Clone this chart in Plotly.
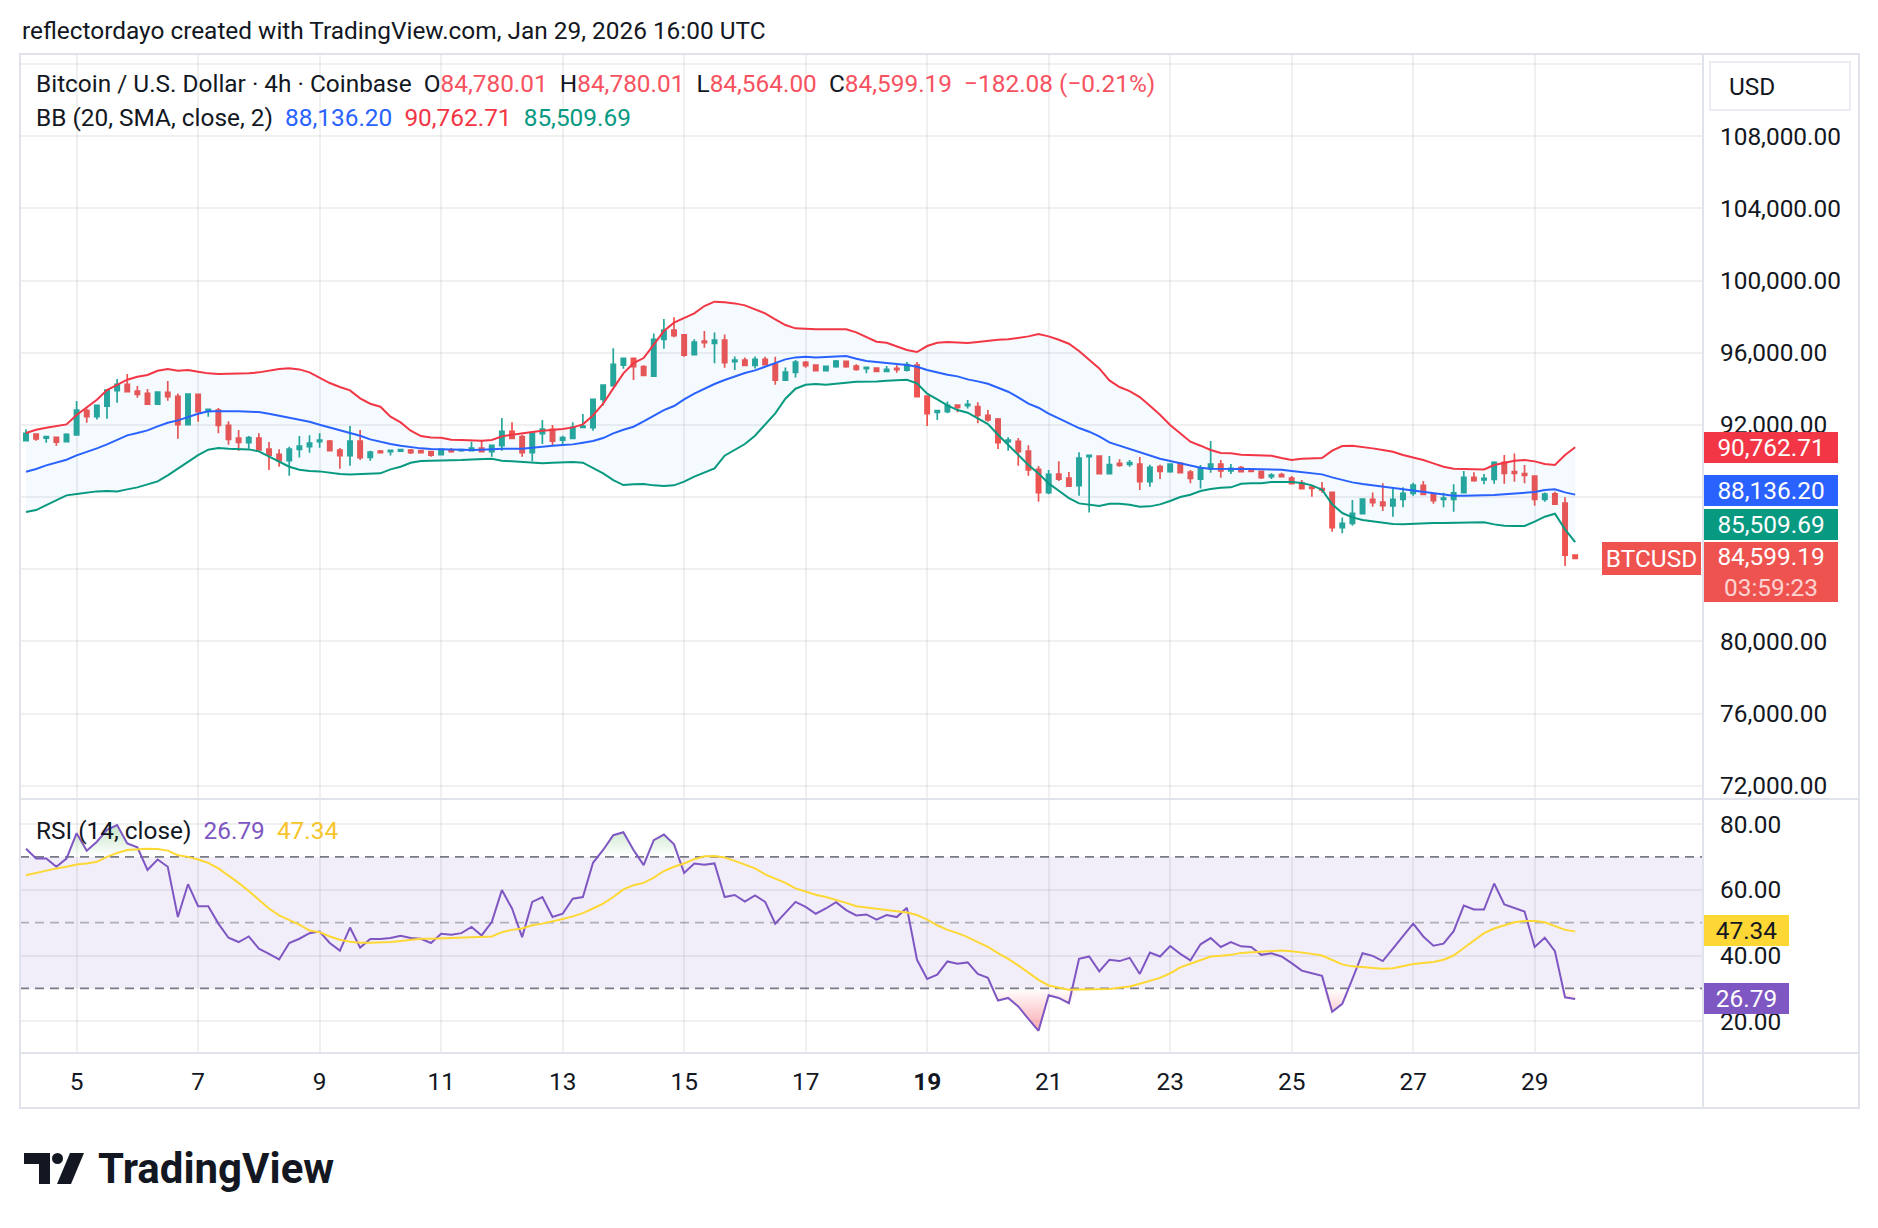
import numpy as np
import pandas as pd
import plotly.graph_objects as go

# ------------------------------------------------------------------ data
first_bar = "2026-01-04 04:00"   # first visible 4h candle
bar_hours = 4

open_ = [91124, 91490, 91270, 91310, 91070, 91440, 92790, 92455, 93045, 93895,
         94245, 93875, 93745, 93155, 93800, 93580, 92010, 93690, 92750, 92825,
         91975, 91270, 91015, 91270, 90660, 90365, 90015, 90645, 90790, 91070,
         91105, 90605, 90295, 91105, 90200, 90550, 90515, 90550, 90605, 90570,
         90515, 90350, 90605, 90570, 90570, 90720, 90515, 90850, 91640, 91345,
         90460, 91510, 91750, 91160, 91255, 91860, 91845, 93415, 94170, 95315,
         95685, 95225, 94705, 96740, 97255, 96995, 95890, 96645, 96515, 96700,
         95500, 95595, 95300, 95630, 95370, 94485, 94910, 95465, 95315, 95005,
         95225, 95520, 95260, 95115, 95150, 94965, 95130, 95040, 95315, 93600,
         92695, 92730, 93100, 93060, 93010, 92525, 92325, 91070, 91085, 90550,
         89535, 88240, 89275, 89055, 88630, 90240, 90275, 89295, 89870, 89810,
         89830, 88850, 89685, 89405, 89870, 89385, 89000, 89555, 89830, 89445,
         89630, 89500, 89425, 89130, 89240, 89055, 88780, 88555, 88465, 88260,
         86305, 86545, 87080, 87875, 87725, 87505, 87875, 88205, 88650, 88170,
         87875, 87875, 88240, 89090, 88945, 88980, 89925, 89405, 89295, 89165,
         87875, 88185, 87670, 84780.01]

high = [91752, 91530, 91360, 91345, 91530, 93320, 92915, 93100, 93970, 94540,
        94820, 94150, 93985, 93860, 94430, 93745, 93745, 93710, 92870, 92935,
        92195, 91715, 91380, 91530, 91050, 90645, 90790, 91380, 91420, 91530,
        91160, 90720, 91935, 91715, 90570, 90605, 90590, 90660, 90660, 90605,
        90570, 90650, 90720, 90660, 91070, 91125, 90870, 92380, 92140, 91455,
        91565, 92270, 91990, 91400, 92140, 92600, 93430, 94245, 96240, 95700,
        95740, 95300, 97070, 97865, 97960, 97035, 96740, 97200, 97125, 97015,
        95795, 95740, 95795, 95780, 95780, 95185, 95595, 95540, 95355, 95245,
        95595, 95560, 95355, 95190, 95190, 95260, 95300, 95485, 95485, 93620,
        92790, 93300, 93140, 93380, 93250, 92825, 92380, 91310, 91270, 90865,
        89720, 89500, 89980, 89385, 90480, 90330, 90290, 90275, 90090, 90050,
        90220, 89795, 89795, 89870, 89880, 89500, 89775, 91105, 90050, 89830,
        89720, 89535, 89430, 89315, 89350, 89165, 88945, 88610, 88835, 88300,
        86875, 87835, 87930, 88260, 88760, 88480, 88540, 88795, 88890, 88205,
        88240, 88705, 89445, 89370, 89275, 89980, 90330, 90420, 89775, 89170,
        88260, 88300, 87985, 84780.01]

low = [91090, 91120, 91010, 90850, 91060, 91430, 92120, 92305, 92340, 93230,
       93830, 93505, 93115, 93115, 93340, 91235, 92000, 92175, 92455, 91530,
       90900, 90570, 90680, 90600, 89500, 89685, 89185, 90200, 90460, 90735,
       90560, 89570, 89740, 90050, 90015, 90420, 90310, 90540, 90385, 90420,
       90235, 90340, 90460, 90515, 90560, 90510, 90235, 90570, 91250, 90235,
       89980, 90940, 90850, 90850, 91250, 91825, 91680, 93080, 94115, 95115,
       94485, 94705, 94670, 96220, 96850, 95780, 95880, 96275, 95410, 95170,
       95040, 95290, 95130, 95295, 94225, 94475, 94630, 95170, 94995, 94995,
       95170, 95170, 95005, 94855, 94930, 94955, 94890, 94965, 93550, 91935,
       92270, 92640, 92695, 92915, 92085, 92175, 90660, 90570, 89740, 89185,
       87745, 88150, 88890, 88575, 88075, 87150, 89290, 89290, 89685, 89685,
       88390, 88575, 89000, 89350, 89315, 88760, 88480, 89350, 89075, 89275,
       89400, 89385, 89000, 89000, 89125, 88700, 88460, 88020, 88240, 86080,
       85990, 86415, 87075, 87465, 87225, 86915, 87430, 88075, 88110, 87635,
       87430, 87190, 88230, 88850, 88705, 88740, 88740, 88850, 88760, 87520,
       87745, 87575, 84180, 84564.00]

close = [91530, 91230, 91345, 91050, 91475, 92820, 92455, 93080, 93930, 94245,
         93840, 93690, 93155, 93820, 93560, 92010, 93710, 92730, 92860, 91975,
         91200, 91030, 91290, 90610, 90330, 90015, 90660, 90830, 90995, 91160,
         90570, 90295, 91105, 90180, 90495, 90460, 90590, 90625, 90460, 90460,
         90330, 90645, 90515, 90625, 90720, 90515, 90865, 91640, 91255, 90460,
         91530, 91770, 91105, 91290, 91860, 91935, 93415, 94210, 95355, 95685,
         95225, 94745, 96740, 97255, 96940, 95870, 96590, 96555, 96700, 95445,
         95595, 95300, 95630, 95335, 94485, 94930, 95485, 95280, 95005, 95240,
         95540, 95225, 95075, 95185, 94965, 95075, 95060, 95335, 93560, 92620,
         92785, 93080, 92970, 93135, 92525, 92270, 91015, 91160, 90515, 89500,
         88240, 89260, 89000, 88610, 90165, 90310, 89295, 89795, 89755, 89905,
         88850, 89645, 89425, 89830, 89350, 89035, 89590, 89830, 89445, 89590,
         89405, 89425, 89075, 89220, 89130, 88740, 88465, 88480, 88390, 86305,
         86545, 87095, 87890, 87690, 87520, 87875, 88205, 88665, 88150, 87800,
         87945, 88240, 89090, 88905, 89035, 89925, 89315, 89315, 89205, 87875,
         88170, 87615, 84781.27, 84599.19]

bb_upper = [91548, 91733, 91844, 91936, 92029, 92546, 92971, 93396, 93931, 94208,
            94504, 94670, 94762, 95002, 95095, 95002, 95039, 94947, 94855, 94818,
            94818, 94855, 94855, 94910, 95021, 95095, 95132, 95076, 94910, 94614,
            94319, 94097, 93913, 93469, 93174, 93008, 92454, 92140, 91678, 91382,
            91308, 91290, 91179, 91161, 91142, 91124, 91161, 91364, 91456, 91548,
            91604, 91678, 91715, 91770, 91862, 92029, 92527, 93174, 94023, 94855,
            95427, 95704, 96443, 97200, 97662, 97902, 98179, 98586, 98826, 98789,
            98733, 98623, 98419, 98179, 97847, 97533, 97348, 97311, 97293, 97293,
            97293, 97293, 97126, 96849, 96609, 96554, 96369, 96148, 96037, 96369,
            96554, 96591, 96572, 96535, 96591, 96665, 96720, 96739, 96812, 96905,
            97034, 96905, 96720, 96498, 96092, 95630, 95132, 94467, 94097, 93876,
            93543, 93063, 92564, 91992, 91530, 91068, 90847, 90607, 90440, 90422,
            90348, 90329, 90329, 90293, 90163, 90052, 90126, 90145, 90163, 90570,
            90828, 90847, 90791, 90699, 90607, 90514, 90329, 90200, 90052, 89868,
            89683, 89572, 89554, 89535, 89535, 89775, 89905, 90015, 90052, 89978,
            89831, 89775, 90329, 90762.71]

bb_basis = [89406, 89554, 89757, 89905, 90071, 90311, 90496, 90699, 90920, 91179,
            91419, 91548, 91696, 91918, 92121, 92250, 92435, 92620, 92749, 92767,
            92749, 92749, 92749, 92712, 92620, 92509, 92417, 92287, 92176, 92010,
            91862, 91715, 91567, 91401, 91198, 91050, 90939, 90847, 90754, 90699,
            90662, 90643, 90625, 90607, 90607, 90625, 90662, 90680, 90680, 90680,
            90736, 90810, 90847, 90884, 90920, 91013, 91105, 91271, 91530, 91733,
            91899, 92195, 92527, 92823, 93045, 93414, 93728, 94005, 94264, 94485,
            94688, 94873, 95021, 95224, 95427, 95630, 95741, 95778, 95741, 95760,
            95778, 95815, 95667, 95538, 95483, 95446, 95372, 95316, 95224, 95039,
            94892, 94781, 94688, 94522, 94411, 94282, 94060, 93839, 93525, 93174,
            92950, 92620, 92361, 92084, 91826, 91622, 91364, 91031, 90847, 90699,
            90514, 90329, 90126, 89997, 89868, 89720, 89628, 89572, 89554, 89554,
            89554, 89554, 89554, 89554, 89517, 89443, 89387, 89351, 89258, 89092,
            88944, 88815, 88723, 88649, 88556, 88482, 88427, 88353, 88279, 88187,
            88113, 88076, 88076, 88076, 88076, 88113, 88150, 88187, 88224, 88279,
            88390, 88427, 88261, 88136.20]

bb_lower = [87171, 87282, 87559, 87818, 88095, 88169, 88261, 88316, 88335, 88316,
            88427, 88538, 88704, 88870, 89203, 89572, 89960, 90329, 90625, 90718,
            90680, 90643, 90643, 90533, 90256, 89942, 89683, 89517, 89443, 89424,
            89351, 89277, 89258, 89277, 89332, 89314, 89535, 89683, 89905, 89997,
            90015, 90015, 90034, 90052, 90089, 90126, 90126, 90015, 89979, 89960,
            89923, 89868, 89905, 89942, 89942, 89905, 89591, 89314, 88944, 88667,
            88704, 88723, 88649, 88612, 88649, 88852, 89129, 89369, 89591, 90293,
            90625, 90939, 91401, 91992, 92638, 93451, 94005, 94227, 94264, 94227,
            94301, 94338, 94393, 94393, 94411, 94448, 94485, 94504, 94301, 93728,
            93414, 93081, 92823, 92675, 92361, 92047, 91456, 90902, 90329, 89775,
            89314, 88760, 88353, 87947, 87651, 87596, 87504, 87633, 87633, 87578,
            87467, 87486, 87596, 87781, 88003, 88132, 88335, 88446, 88519, 88538,
            88741, 88760, 88760, 88833, 88852, 88833, 88778, 88649, 88409, 87596,
            87116, 86876, 86728, 86654, 86580, 86507, 86488, 86525, 86543, 86562,
            86562, 86580, 86580, 86580, 86599, 86488, 86414, 86396, 86396, 86636,
            86913, 87079, 86211, 85509.69]

rsi = [72.5, 69.5, 69.5, 67.0, 69.5, 77.2, 71.9, 74.6, 78.2, 79.7,
       74.1, 72.9, 66.0, 69.2, 67.0, 51.7, 61.7, 55.0, 55.0, 49.7,
       45.4, 44.1, 45.8, 42.1, 40.5, 38.8, 43.8, 45.1, 46.8, 47.3,
       43.8, 41.5, 48.5, 42.4, 45.0, 45.0, 45.3, 46.0, 45.3, 45.1,
       43.8, 46.6, 46.3, 46.8, 48.7, 46.1, 50.2, 59.9, 54.3, 45.6,
       56.3, 57.8, 51.7, 52.7, 57.3, 57.8, 68.2, 72.1, 76.6, 77.5,
       72.1, 67.5, 75.1, 76.8, 73.8, 65.1, 68.0, 67.6, 68.0, 57.8,
       58.4, 56.4, 58.3, 56.3, 49.7, 52.9, 56.3, 54.8, 52.7, 54.3,
       56.2, 53.8, 52.2, 52.5, 50.9, 52.3, 51.7, 54.5, 38.7, 32.9,
       34.2, 38.2, 37.5, 37.9, 34.4, 33.2, 26.3, 27.1, 24.5, 20.7,
       17.1, 27.9, 27.1, 25.5, 39.0, 39.7, 35.2, 38.7, 38.3, 39.3,
       34.4, 40.9, 39.7, 42.9, 40.5, 38.5, 43.4, 45.3, 42.6, 44.1,
       42.8, 42.6, 40.2, 40.7, 39.7, 37.7, 35.4, 34.6, 33.8, 22.9,
       25.3, 32.9, 40.7, 39.9, 38.3, 42.1, 45.8, 49.7, 45.8, 43.0,
       43.6, 47.4, 55.2, 54.0, 54.0, 61.9, 55.5, 54.4, 53.4, 42.6,
       45.4, 41.3, 27.3, 26.79]

rsi_ma = [64.4, 65.1, 65.9, 66.5, 67.0, 67.7, 68.0, 68.5, 70.0, 71.2,
          72.1, 72.4, 72.5, 72.4, 71.9, 70.5, 70.0, 69.2, 68.2, 66.5,
          64.4, 62.1, 59.6, 56.8, 54.3, 52.2, 50.9, 49.4, 47.6, 47.1,
          45.8, 44.8, 44.2, 43.9, 43.9, 43.9, 44.1, 44.4, 44.8, 45.1,
          45.1, 45.2, 45.2, 45.3, 45.5, 45.7, 45.8, 47.1, 47.8, 48.2,
          49.2, 49.7, 50.3, 51.1, 51.9, 52.9, 54.3, 55.8, 57.8, 60.1,
          61.4, 62.1, 63.7, 65.7, 67.0, 68.0, 69.3, 70.2, 70.3, 69.8,
          68.8, 67.7, 66.5, 64.7, 63.4, 62.1, 60.4, 59.4, 58.5, 57.8,
          57.0, 56.0, 55.0, 54.6, 54.2, 53.7, 53.4, 53.1, 52.3, 50.9,
          49.2, 47.8, 46.8, 45.6, 44.1, 42.6, 40.7, 39.0, 37.0, 34.9,
          32.6, 30.9, 30.2, 29.6, 29.7, 29.7, 29.7, 29.8, 30.2, 30.6,
          31.4, 32.2, 33.2, 34.6, 36.4, 37.5, 38.7, 39.7, 39.9, 40.2,
          40.8, 41.0, 41.2, 41.3, 41.5, 41.3, 41.0, 40.5, 40.0, 38.7,
          37.3, 36.7, 36.4, 36.2, 36.0, 36.1, 36.7, 37.4, 37.7, 38.0,
          38.7, 40.0, 42.3, 44.6, 46.8, 48.2, 49.2, 50.1, 50.5, 50.5,
          50.1, 48.9, 47.8, 47.34]

price_ticks = [112000, 108000, 104000, 100000, 96000, 92000, 88000, 84000, 80000, 76000, 72000]
hidden_price_ticks = [112000, 88000, 84000]   # covered by the USD button / price tags
rsi_ticks = [80, 60, 40, 20]
rsi_bands = [70, 50, 30]
date_ticks = ["2026-01-05", "2026-01-07", "2026-01-09", "2026-01-11", "2026-01-13",
              "2026-01-15", "2026-01-17", "2026-01-19", "2026-01-21", "2026-01-23",
              "2026-01-25", "2026-01-27", "2026-01-29"]
date_labels = ["5", "7", "9", "11", "13", "15", "17", "<b>19</b>", "21", "23", "25", "27", "29"]
countdown = "03:59:23"

n = len(close)
assert all(len(a) == n for a in [open_, high, low, bb_upper, bb_basis, bb_lower, rsi, rsi_ma]), \
    [len(a) for a in [open_, high, low, close, bb_upper, bb_basis, bb_lower, rsi, rsi_ma]]

dates = pd.date_range(first_bar, periods=n, freq=f"{bar_hours}h")

# ------------------------------------------------------------------ style
UP, DN = "#26a69a", "#ef5350"
BB_UP, BB_MID, BB_LO = "#f23645", "#2962ff", "#089981"
RSI_C, RSIMA_C = "#7e57c2", "#fdd835"
TXT = "#131722"
GRID = "rgba(42,46,57,0.07)"
SEP = "#e0e3eb"
FONT = "Roboto"
FS = 24.4

W, H = 1878, 1228
PL, PR, PT, PB = 20, 1703, 54, 1053


def fx(px):
    return (px - PL) / (PR - PL)


def fy(py):
    return (PB - py) / (PB - PT)


def fmt(v):
    return f"{v:,.2f}"


def signed(v):
    return ("\u2212" if v < 0 else "+") + f"{abs(v):,.2f}"


fig = go.Figure()

# ---- main pane
fig.add_trace(go.Candlestick(
    x=dates, open=open_, high=high, low=low, close=close,
    increasing=dict(line=dict(color=UP, width=1.7), fillcolor=UP),
    decreasing=dict(line=dict(color=DN, width=1.7), fillcolor=DN),
    whiskerwidth=0, hoverinfo="skip", xaxis="x", yaxis="y"))
fig.add_trace(go.Scatter(x=dates, y=bb_upper, mode="lines", line=dict(color=BB_UP, width=2),
                         hoverinfo="skip", xaxis="x", yaxis="y"))
fig.add_trace(go.Scatter(x=dates, y=bb_lower, mode="lines", line=dict(color=BB_LO, width=2),
                         fill="tonexty", fillcolor="rgba(33,150,243,0.05)",
                         hoverinfo="skip", xaxis="x", yaxis="y"))
fig.add_trace(go.Scatter(x=dates, y=bb_basis, mode="lines", line=dict(color=BB_MID, width=2),
                         hoverinfo="skip", xaxis="x", yaxis="y"))

# ---- RSI pane
rsi_arr = np.array(rsi)
fig.add_trace(go.Scatter(x=dates, y=[70] * n, mode="lines", line=dict(width=0),
                         hoverinfo="skip", xaxis="x2", yaxis="y2"))
fig.add_trace(go.Scatter(x=dates, y=np.maximum(rsi_arr, 70), mode="lines", line=dict(width=0),
                         fill="tonexty",
                         fillgradient=dict(type="vertical", start=70, stop=100,
                                           colorscale=[[0, "rgba(76,175,80,0)"], [1, "rgba(76,175,80,1)"]]),
                         hoverinfo="skip", xaxis="x2", yaxis="y2"))
fig.add_trace(go.Scatter(x=dates, y=[30] * n, mode="lines", line=dict(width=0),
                         hoverinfo="skip", xaxis="x2", yaxis="y2"))
fig.add_trace(go.Scatter(x=dates, y=np.minimum(rsi_arr, 30), mode="lines", line=dict(width=0),
                         fill="tonexty",
                         fillgradient=dict(type="vertical", start=0, stop=30,
                                           colorscale=[[0, "rgba(242,54,69,1)"], [1, "rgba(242,54,69,0)"]]),
                         hoverinfo="skip", xaxis="x2", yaxis="y2"))
fig.add_trace(go.Scatter(x=dates, y=rsi, mode="lines", line=dict(color=RSI_C, width=2),
                         hoverinfo="skip", xaxis="x2", yaxis="y2"))
fig.add_trace(go.Scatter(x=dates, y=rsi_ma, mode="lines", line=dict(color=RSIMA_C, width=2),
                         hoverinfo="skip", xaxis="x2", yaxis="y2"))

# ---- axes
x_range = ["2026-01-04 01:38", "2026-01-31 18:30"]
main_range = [71326, 112551]
rsi_range = [10.35, 87.30]

common_x = dict(type="date", range=x_range, tickvals=date_ticks, showgrid=True, gridcolor=GRID,
                gridwidth=2, zeroline=False, showline=False, fixedrange=True, automargin=False,
                ticks="")
fig.update_layout(
    width=W, height=H,
    margin=dict(l=PL, r=W - PR, t=PT, b=H - PB, autoexpand=False),
    paper_bgcolor="white", plot_bgcolor="white",
    showlegend=False, boxgap=0.4,
    font=dict(family=FONT, size=FS, color=TXT),
    xaxis=dict(common_x, domain=[0, 1], anchor="y", showticklabels=False,
               rangeslider=dict(visible=False)),
    xaxis2=dict(common_x, domain=[0, 1], anchor="y2", matches="x", ticktext=date_labels,
                showticklabels=True, ticklabelstandoff=12,
                tickfont=dict(family=FONT, size=FS, color=TXT)),
    yaxis=dict(domain=[fy(798), 1], range=main_range, side="right", anchor="x",
               tickvals=price_ticks,
               ticktext=["" if v in hidden_price_ticks else fmt(v) for v in price_ticks],
               showgrid=True, gridcolor=GRID, gridwidth=2, zeroline=False, showline=False,
               ticks="", ticklabelstandoff=16, automargin=False, fixedrange=True,
               tickfont=dict(family=FONT, size=FS, color=TXT)),
    yaxis2=dict(domain=[0, fy(800)], range=rsi_range, side="right", anchor="x2",
                tickvals=rsi_ticks, ticktext=[fmt(v) for v in rsi_ticks],
                showgrid=True, gridcolor=GRID, gridwidth=2, zeroline=False, showline=False,
                ticks="", ticklabelstandoff=16, automargin=False, fixedrange=True,
                tickfont=dict(family=FONT, size=FS, color=TXT)),
)

shapes = []
# RSI background band
shapes.append(dict(type="rect", xref="paper", yref="y2", x0=0, x1=1, y0=30, y1=70,
                   fillcolor="rgba(126,87,194,0.1)", line=dict(width=0), layer="below"))
for lvl in rsi_bands:
    col = "rgba(120,123,134,0.55)" if lvl == 50 else "#787b86"
    shapes.append(dict(type="line", xref="paper", yref="y2", x0=0, x1=1, y0=lvl, y1=lvl,
                       line=dict(color=col, width=1.6, dash="9px,6px"), layer="between"))
# separators and frame
shapes.append(dict(type="rect", xref="paper", yref="paper", x0=fx(20), x1=fx(1859),
                   y0=fy(1108), y1=fy(54), line=dict(color=SEP, width=2), layer="above"))
shapes.append(dict(type="line", xref="paper", yref="paper", x0=fx(1703), x1=fx(1703),
                   y0=fy(1108), y1=fy(54), line=dict(color=SEP, width=2), layer="above"))
for yy in (799, 1053):
    shapes.append(dict(type="line", xref="paper", yref="paper", x0=fx(20), x1=fx(1859),
                       y0=fy(yy), y1=fy(yy), line=dict(color=SEP, width=2), layer="above"))
# USD button
shapes.append(dict(type="rect", xref="paper", yref="paper", x0=fx(1710), x1=fx(1850),
                   y0=fy(110), y1=fy(62),
                   fillcolor="white", line=dict(color="#e6e8ee", width=1.5), layer="above"))
# TradingView logo mark
logo_col = "#131722"
shapes.append(dict(type="path", xref="paper", yref="paper", fillcolor=logo_col, line=dict(width=0),
                   path=(f"M {fx(24)} {fy(1153)} L {fx(50)} {fy(1153)} L {fx(50)} {fy(1184)} "
                         f"L {fx(39)} {fy(1184)} L {fx(39)} {fy(1164)} L {fx(24)} {fy(1164)} Z")))
shapes.append(dict(type="circle", xref="paper", yref="paper", fillcolor=logo_col, line=dict(width=0),
                   x0=fx(52), x1=fx(63), y0=fy(1164), y1=fy(1153)))
shapes.append(dict(type="path", xref="paper", yref="paper", fillcolor=logo_col, line=dict(width=0),
                   path=(f"M {fx(70)} {fy(1153)} L {fx(84)} {fy(1153)} L {fx(71)} {fy(1184)} "
                         f"L {fx(57)} {fy(1184)} Z")))
fig.update_layout(shapes=shapes)

ann = []


def text(x, y, s, size=FS, color=TXT, xanchor="left", **kw):
    ann.append(dict(xref="paper", yref="paper", x=fx(x), y=fy(y), text=s, showarrow=False,
                    xanchor=xanchor, yanchor="middle", font=dict(family=FONT, size=size, color=color), **kw))


def tag(y, s, bg, width=126, height=23, x=1704, color="white"):
    ann.append(dict(xref="paper", yref="paper", x=fx(x), y=fy(y), text=s, showarrow=False,
                    xanchor="left", yanchor="middle", bgcolor=bg, borderpad=4, borderwidth=0,
                    width=width, height=height, align="center", valign="middle",
                    font=dict(family=FONT, size=FS, color=color)))


SP = "\u00a0"
chg = close[-1] - close[-2]
pct = chg / close[-2] * 100
OHLC_C = "#f7525f"
text(20, 30, "reflectordayo created with TradingView.com, Jan 29, 2026 16:00 UTC")
line1 = (f"Bitcoin / U.S. Dollar · 4h · Coinbase{SP*2}"
         f"O<span style='color:{OHLC_C}'>{fmt(open_[-1])}</span>{SP*2}"
         f"H<span style='color:{OHLC_C}'>{fmt(high[-1])}</span>{SP*2}"
         f"L<span style='color:{OHLC_C}'>{fmt(low[-1])}</span>{SP*2}"
         f"C<span style='color:{OHLC_C}'>{fmt(close[-1])}</span>{SP*2}"
         f"<span style='color:{OHLC_C}'>{signed(chg)} ({signed(pct)}%)</span>")
text(34, 84, line1)
line2 = (f"BB (20, SMA, close, 2){SP*2}"
         f"<span style='color:{BB_MID}'>{fmt(bb_basis[-1])}</span>{SP*2}"
         f"<span style='color:{BB_UP}'>{fmt(bb_upper[-1])}</span>{SP*2}"
         f"<span style='color:{BB_LO}'>{fmt(bb_lower[-1])}</span>")
text(34, 117, line2)
line3 = (f"RSI (14, close){SP*2}"
         f"<span style='color:{RSI_C}'>{fmt(rsi[-1])}</span>{SP*2}"
         f"<span style='color:#f7c52b'>{fmt(rsi_ma[-1])}</span>")
text(34, 830, line3)
text(1727, 86, "USD")

# price-scale tags
tag(447, fmt(bb_upper[-1]), BB_UP)
tag(490, fmt(bb_basis[-1]), BB_MID)
tag(524, fmt(bb_lower[-1]), BB_LO)
tag(572, f"{fmt(close[-1])}<br><span style='color:rgba(255,255,255,0.75)'>{countdown}</span>",
    DN, height=52)
tag(558, "BTCUSD", DN, width=91, height=25, x=1602)
tag(930, fmt(rsi_ma[-1]), RSIMA_C, width=77, color=TXT)
tag(998, fmt(rsi[-1]), RSI_C, width=77)

# TradingView wordmark
text(96, 1168, "<b>TradingView</b>", size=42)

fig.update_layout(annotations=ann)
fig.write_html("out.html")
